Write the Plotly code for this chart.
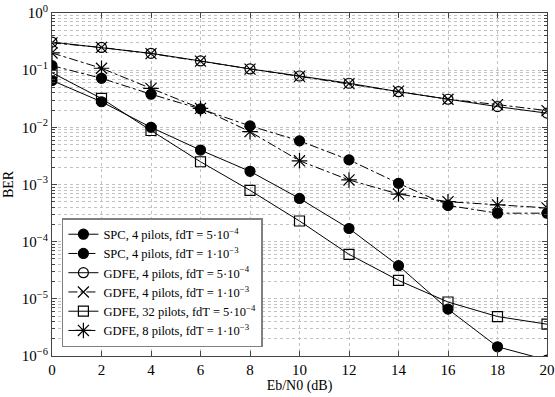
import plotly.graph_objects as go

snr = [0, 2, 4, 6, 8, 10, 12, 14, 16, 18, 20]

spc4_5e4 = [0.066, 0.028, 0.010, 0.0040, 0.0017, 5.7e-4, 1.7e-4, 3.8e-5, 6.6e-6, 1.45e-6, 8.5e-7]
spc4_1e3 = [0.12, 0.072, 0.038, 0.021, 0.0106, 0.0058, 0.0027, 0.00105, 4.3e-4, 3.15e-4, 3.15e-4]
gdfe4_5e4 = [0.31, 0.25, 0.197, 0.145, 0.105, 0.079, 0.059, 0.042, 0.031, 0.023, 0.0177]
gdfe4_1e3 = [0.30, 0.25, 0.195, 0.144, 0.104, 0.078, 0.058, 0.043, 0.031, 0.025, 0.0196]
gdfe32_5e4 = [0.090, 0.032, 0.0088, 0.0025, 7.9e-4, 2.3e-4, 6.0e-5, 2.1e-5, 8.8e-6, 4.9e-6, 3.6e-6]
gdfe8_1e3 = [0.20, 0.108, 0.048, 0.0215, 0.0084, 0.0026, 0.0012, 6.8e-4, 5.0e-4, 4.4e-4, 3.9e-4]

names = [
    "SPC, 4 pilots, fdT = 5·10<sup>−4</sup>",
    "SPC, 4 pilots, fdT = 1·10<sup>−3</sup>",
    "GDFE, 4 pilots, fdT = 5·10<sup>−4</sup>",
    "GDFE, 4 pilots, fdT = 1·10<sup>−3</sup>",
    "GDFE, 32 pilots, fdT = 5·10<sup>−4</sup>",
    "GDFE, 8 pilots, fdT = 1·10<sup>−3</sup>",
]

ytick_vals = [1e-6, 1e-5, 1e-4, 1e-3, 1e-2, 1e-1, 1]
ytick_text = ["10<sup>−6</sup>", "10<sup>−5</sup>", "10<sup>−4</sup>", "10<sup>−3</sup>",
              "10<sup>−2</sup>", "10<sup>−1</sup>", "10<sup>0</sup>"]

series = [spc4_5e4, spc4_1e3, gdfe4_5e4, gdfe4_1e3, gdfe32_5e4, gdfe8_1e3]
symbols = ["circle", "circle", "circle-open", "x-thin-open", "square-open", "asterisk-open"]
dashes = ["solid", "dashdot", "solid", "dashdot", "solid", "dashdot"]
sizes = [10, 10, 10, 11, 10, 13]

fig = go.Figure()
for y, nm, sym, d, sz in zip(series, names, symbols, dashes, sizes):
    fig.add_trace(go.Scatter(
        x=snr, y=y, name=nm, mode="lines+markers",
        line=dict(color="black", width=1, dash=d),
        marker=dict(symbol=sym, size=sz, color="black",
                    line=dict(color="black", width=1.2)),
    ))

font = dict(family="Liberation Serif, Times New Roman, serif", color="black")
gcol = "#c2c2c2"
grid = dict(showgrid=True, gridcolor=gcol, griddash="dot", gridwidth=1)

fig.update_layout(
    width=555, height=397,
    margin=dict(l=52, r=8, t=13, b=41),
    paper_bgcolor="white", plot_bgcolor="white",
    font=dict(size=14, **font),
    showlegend=True,
    legend=dict(x=0.02, y=0.026, xanchor="left", yanchor="bottom",
                bgcolor="white", bordercolor="#808080", borderwidth=1.5,
                font=dict(size=12.5, **font), tracegroupgap=0,
                itemwidth=30),
    xaxis=dict(range=[0, 20], dtick=2, tick0=0, automargin=False,
               title=dict(text="Eb/N0 (dB)", font=dict(size=14), standoff=2),
               showline=True, linecolor="#444", linewidth=1, mirror="allticks",
               ticks="inside", ticklen=5, tickcolor="#444", zeroline=False,
               tickfont=dict(size=15, **font),
               **grid),
    yaxis=dict(type="log", range=[-6, 0], tickvals=ytick_vals, ticktext=ytick_text,
               automargin=False,
               title=dict(text="BER", font=dict(size=14), standoff=4),
               showline=True, linecolor="#444", linewidth=1, mirror="allticks",
               ticks="inside", ticklen=5, tickcolor="#444", zeroline=False,
               tickfont=dict(size=15, **font),
               minor=dict(dtick="D1", showgrid=True, gridcolor=gcol, griddash="dot",
                          ticks="inside", ticklen=3, tickcolor="#444"),
               **grid),
)

fig.write_html("out.html", config={"displayModeBar": False},
               post_script="document.body.style.margin='0px';document.body.style.padding='0px';")
